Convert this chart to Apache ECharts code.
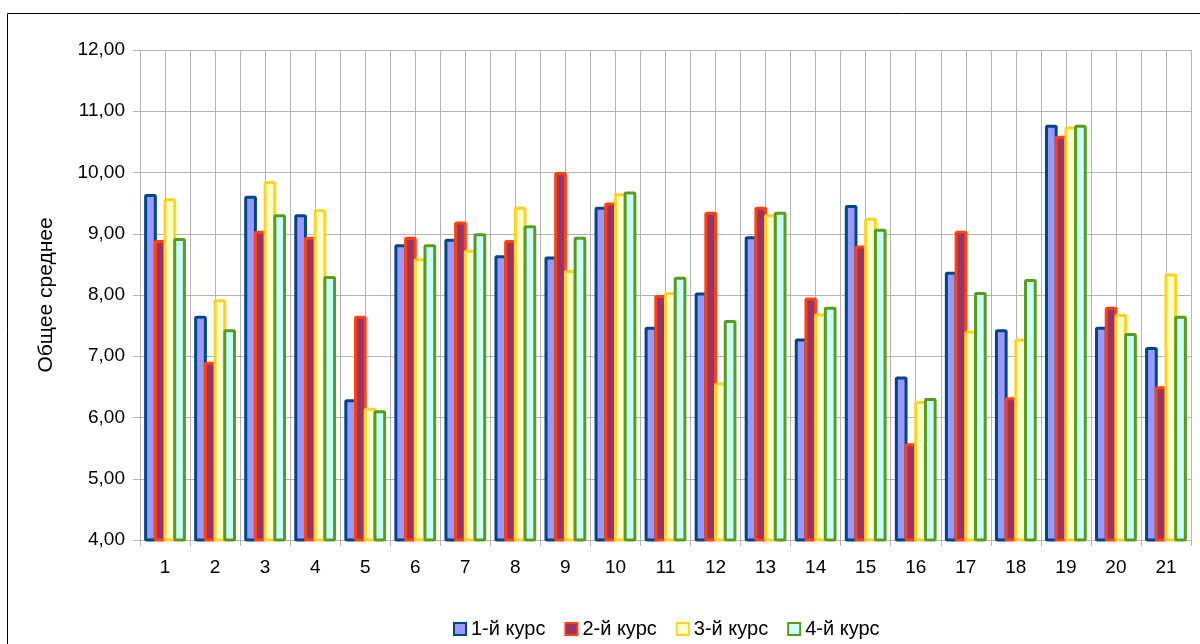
<!DOCTYPE html>
<html>
<head>
<meta charset="utf-8">
<script src="https://cdn.jsdelivr.net/npm/echarts@6/dist/echarts.min.js"></script>
<style>
html,body{margin:0;padding:0;background:#fff;}
#c{width:1200px;height:644px;}
</style>
</head>
<body>
<div id="c"></div>
<script>
const categories = ['1','2','3','4','5','6','7','8','9','10','11','12','13','14','15','16','17','18','19','20','21'];
const seriesNames = ['1-й курс','2-й курс','3-й курс','4-й курс'];
const course1 = [9.65,7.66,9.62,9.32,6.30,8.83,8.92,8.65,8.63,9.44,7.48,8.04,8.96,7.29,9.47,6.67,8.38,7.44,10.78,7.48,7.15];
const course2 = [8.90,6.91,9.05,8.95,7.66,8.95,9.20,8.90,10.01,9.51,8.00,9.36,9.44,7.96,8.81,5.58,9.05,6.33,10.60,7.81,6.51];
const course3 = [9.58,7.93,9.86,9.40,6.16,8.60,8.74,9.44,8.41,9.66,8.05,6.57,9.32,7.70,9.26,6.27,7.42,7.29,10.75,7.69,8.35];
const course4 = [8.93,7.44,9.32,8.31,6.12,8.83,9.01,9.14,8.95,9.69,8.30,7.59,9.36,7.81,9.08,6.32,8.05,8.26,10.78,7.38,7.66];
const yTicks = [4,5,6,7,8,9,10,11,12];

const fills = ['#9999ff','#993366','#ffffcc','#ccffff'];
const borders = ['#004586','#ff420e','#ffd320','#579d1c'];
const values = [course1, course2, course3, course4];

const chart = echarts.init(document.getElementById('c'));
const FONT = 'Liberation Sans';
chart.setOption({
  animation: false,
  textStyle: {fontFamily: FONT},
  graphic: [{type:'rect', shape:{x:7.5,y:13.5,width:1300,height:800}, style:{fill:'none', stroke:'#000', lineWidth:1}, silent:true}],
  grid: {left:140, right:9, top:50, bottom:104},
  legend: {
    bottom: 0, left: 448, itemWidth: 12, itemHeight: 12, itemGap: 19,
    icon: 'rect',
    textStyle: {fontSize:20, color:'#000', fontFamily: FONT},
    data: seriesNames
  },
  xAxis: [{
    type:'category', data: categories, boundaryGap:true,
    axisLine:{show:true, lineStyle:{color:'#b3b3b3'}},
    axisTick:{show:true, length:6, alignWithLabel:false, lineStyle:{color:'#b3b3b3'}},
    axisLabel:{fontSize:19, color:'#000', margin:18, fontFamily: FONT},
    splitLine:{show:false}
  },{
    type:'value', min:0, max:42, interval:1, show:true, position:'bottom',
    axisLine:{show:false}, axisTick:{show:false}, axisLabel:{show:false},
    splitLine:{show:true, lineStyle:{color:'#b3b3b3', width:1}}
  }],
  yAxis: {
    type:'value', min: yTicks[0], max: yTicks[yTicks.length-1], interval:1,
    name:'Общее среднее', nameLocation:'middle', nameGap:83, nameRotate:90,
    nameTextStyle:{fontSize:21, color:'#000', fontFamily: FONT},
    axisLine:{show:true, lineStyle:{color:'#b3b3b3'}},
    axisTick:{show:true, length:7, lineStyle:{color:'#b3b3b3'}},
    axisLabel:{fontSize:19, color:'#000', margin:15, fontFamily: FONT,
      formatter: v => v.toFixed(2).replace('.', ',')},
    splitLine:{show:true, lineStyle:{color:'#b3b3b3'}}
  },
  series: values.map((vals, i) => ({
    name: seriesNames[i], type:'bar', xAxisIndex:0, data: vals,
    barWidth: 12.7, barGap: '-23.6%',
    itemStyle: {color: fills[i], borderColor: borders[i], borderWidth: 3, borderRadius: 1}
  }))
});
</script>
</body>
</html>
